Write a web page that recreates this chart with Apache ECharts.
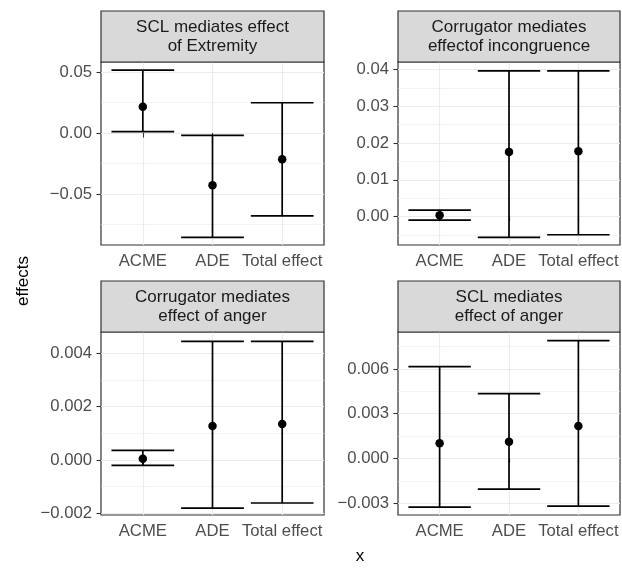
<!DOCTYPE html>
<html>
<head>
<meta charset="utf-8">
<script src="https://cdn.jsdelivr.net/npm/echarts@6/dist/echarts.min.js"></script>
<style>
  html, body { margin: 0; padding: 0; background: #fff; }
  #chart { width: 622px; height: 570px; }
</style>
</head>
<body>
<div id="chart"></div>
<script>
var categories = ['ACME', 'ADE', 'Total effect'];
var catPos = [1, 2, 3];

var titles = [
  'SCL mediates effect\nof Extremity',
  'Corrugator mediates\neffectof incongruence',
  'Corrugator mediates\neffect of anger',
  'SCL mediates\neffect of anger'
];

// point estimates and confidence limits, one array per panel
var est1 = [0.0216, -0.0429, -0.0216];
var lower1 = [0.0011, -0.0855, -0.0680];
var upper1 = [0.0516, -0.0019, 0.0248];

var est2 = [0.0004, 0.0176, 0.0178];
var lower2 = [-0.0009, -0.0056, -0.0049];
var upper2 = [0.0018, 0.0396, 0.0396];

var est3 = [0.00005, 0.00128, 0.00135];
var lower3 = [-0.0002, -0.0018, -0.00161];
var upper3 = [0.00036, 0.00445, 0.00445];

var est4 = [0.00102, 0.00113, 0.00217];
var lower4 = [-0.00325, -0.00205, -0.00318];
var upper4 = [0.00615, 0.00435, 0.00789];

// y axis ticks / labels / minor grid / limits
var yTicks1 = [-0.05, 0, 0.05];
var yLabels1 = ['\u22120.05', '0.00', '0.05'];
var yMinor1 = [-0.075, -0.025, 0.025];
var yLim1 = [-0.0918, 0.0582];

var yTicks2 = [0, 0.01, 0.02, 0.03, 0.04];
var yLabels2 = ['0.00', '0.01', '0.02', '0.03', '0.04'];
var yMinor2 = [-0.005, 0.005, 0.015, 0.025, 0.035];
var yLim2 = [-0.00768, 0.042];

var yTicks3 = [-0.002, 0, 0.002, 0.004];
var yLabels3 = ['\u22120.002', '0.000', '0.002', '0.004'];
var yMinor3 = [-0.001, 0.001, 0.003];
var yLim3 = [-0.00206, 0.0048];

var yTicks4 = [-0.003, 0, 0.003, 0.006];
var yLabels4 = ['\u22120.003', '0.000', '0.003', '0.006'];
var yMinor4 = [-0.0015, 0.0015, 0.0045, 0.0075];
var yLim4 = [-0.00378, 0.00847];

var panels = [
  {est: est1, lo: lower1, hi: upper1, ticks: yTicks1, labels: yLabels1, minor: yMinor1, lim: yLim1},
  {est: est2, lo: lower2, hi: upper2, ticks: yTicks2, labels: yLabels2, minor: yMinor2, lim: yLim2},
  {est: est3, lo: lower3, hi: upper3, ticks: yTicks3, labels: yLabels3, minor: yMinor3, lim: yLim3},
  {est: est4, lo: lower4, hi: upper4, ticks: yTicks4, labels: yLabels4, minor: yMinor4, lim: yLim4}
];

// layout of the 2x2 facet grid
var FONT = '"Liberation Sans", Arial, Helvetica, sans-serif';
var cols = [{left: 101, width: 223}, {left: 398, width: 222}];
var rows = [{top: 62, height: 183}, {top: 332, height: 183}];
var stripH = 51;
var gridCol = '#EBEBEB';
var dark = '#333333';

function renderErrorBar(params, api) {
  var x = api.value(0);
  var lo = api.coord([x, api.value(1)]);
  var hi = api.coord([x, api.value(2)]);
  var half = api.size([0.9, 0])[0] / 2;
  var st = {stroke: '#000', lineWidth: 1.7};
  return {
    type: 'group',
    children: [
      {type: 'line', shape: {x1: lo[0], y1: lo[1], x2: hi[0], y2: hi[1]}, style: st},
      {type: 'line', shape: {x1: lo[0] - half, y1: lo[1], x2: lo[0] + half, y2: lo[1]}, style: st},
      {type: 'line', shape: {x1: hi[0] - half, y1: hi[1], x2: hi[0] + half, y2: hi[1]}, style: st}
    ]
  };
}

var grid = [], xAxis = [], yAxis = [], series = [], graphic = [];

panels.forEach(function (p, i) {
  var c = cols[i % 2], r = rows[Math.floor(i / 2)];
  grid.push({
    left: c.left, top: r.top, width: c.width, height: r.height,
    show: true, backgroundColor: '#fff', borderColor: dark, borderWidth: 1.2
  });
  xAxis.push({
    type: 'value', gridIndex: i, min: 0.4, max: 3.6,
    axisLine: {show: false},
    axisTick: {show: true, length: 4.5, customValues: catPos, lineStyle: {color: dark, width: 1.1}},
    axisLabel: {
      customValues: catPos, margin: 8, color: '#4D4D4D', fontSize: 16.7, fontFamily: FONT,
      formatter: function (v) { return categories[Math.round(v) - 1]; }
    },
    splitLine: {show: true, lineStyle: {color: gridCol, width: 1.1}}
  });
  // major axis
  yAxis.push({
    type: 'value', gridIndex: i, min: p.lim[0], max: p.lim[1],
    axisLine: {show: false},
    axisTick: {show: true, length: 4.5, customValues: p.ticks, lineStyle: {color: dark, width: 1.1}},
    axisLabel: {
      customValues: p.ticks, margin: 9, color: '#4D4D4D', fontSize: 16.7, fontFamily: FONT,
      formatter: function (v) {
        for (var k = 0; k < p.ticks.length; k++) {
          if (Math.abs(p.ticks[k] - v) < 1e-9) return p.labels[k];
        }
        return '';
      }
    },
    splitLine: {show: true, lineStyle: {color: gridCol, width: 1.1}}
  });
  series.push({
    type: 'custom', xAxisIndex: i, yAxisIndex: i,
    renderItem: renderErrorBar,
    data: catPos.map(function (x, k) { return [x, p.lo[k], p.hi[k]]; }),
    z: 3, silent: true
  });
  series.push({
    type: 'scatter', xAxisIndex: i, yAxisIndex: i,
    symbolSize: 8.5, itemStyle: {color: '#000', opacity: 1},
    data: catPos.map(function (x, k) { return [x, p.est[k]]; }),
    z: 4, silent: true
  });
  // strip
  graphic.push({
    type: 'rect', z: 10,
    shape: {x: c.left, y: r.top - stripH, width: c.width, height: stripH},
    style: {fill: '#D9D9D9', stroke: dark, lineWidth: 1.2}
  });
  graphic.push({
    type: 'text', z: 11,
    x: c.left + c.width / 2, y: r.top - stripH / 2,
    style: {
      text: titles[i], fill: '#1A1A1A', font: '17px ' + FONT,
      align: 'center', verticalAlign: 'middle', lineHeight: 18.7
    }
  });
});

// minor grid lines on extra hidden y axes
panels.forEach(function (p, i) {
  yAxis.push({
    type: 'value', gridIndex: i, min: p.lim[0], max: p.lim[1],
    axisLine: {show: false},
    axisTick: {show: false, customValues: p.minor},
    axisLabel: {show: false},
    splitLine: {show: true, lineStyle: {color: gridCol, width: 0.6}}
  });
});

graphic.push({
  type: 'text', x: 23, y: 281, rotation: Math.PI / 2,
  style: {text: 'effects', fill: '#000', font: '17px ' + FONT, align: 'center', verticalAlign: 'middle'}
});
graphic.push({
  type: 'text', x: 360, y: 556,
  style: {text: 'x', fill: '#000', font: '17px ' + FONT, align: 'center', verticalAlign: 'middle'}
});

var chart = echarts.init(document.getElementById('chart'), null, {renderer: 'canvas'});
chart.setOption({
  animation: false,
  backgroundColor: '#fff',
  grid: grid,
  xAxis: xAxis,
  yAxis: yAxis,
  series: series,
  graphic: graphic
});
</script>
</body>
</html>
